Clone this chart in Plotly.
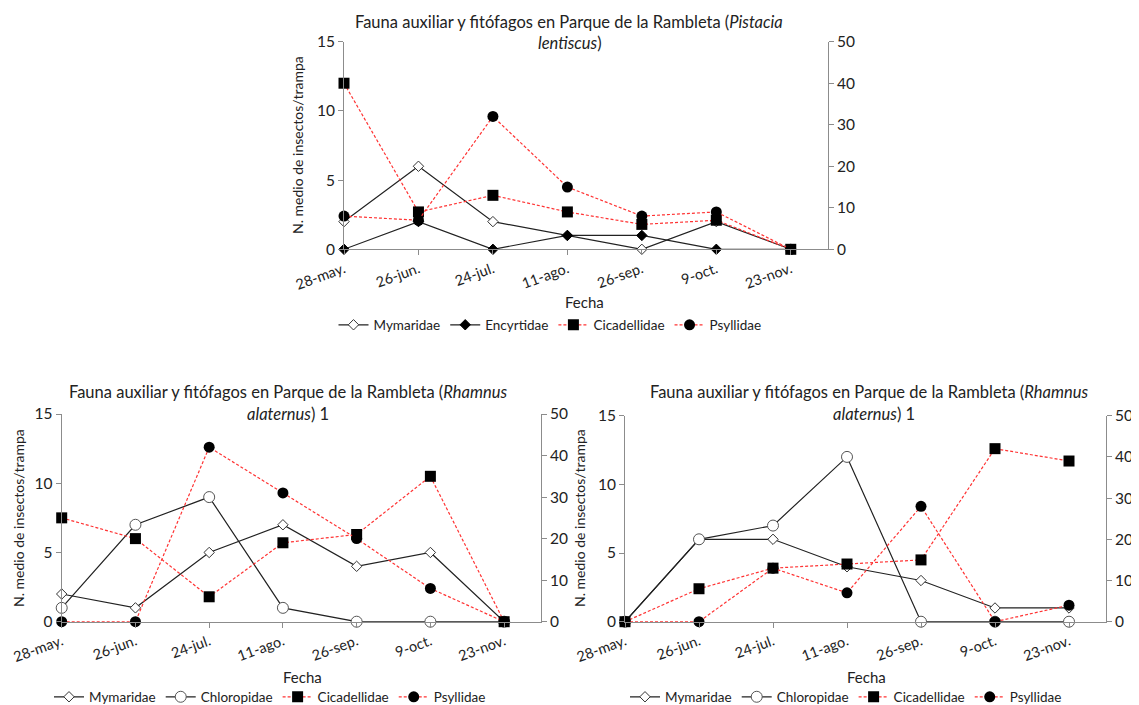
import plotly.graph_objects as go

# The page body has an 8px margin, so the figure is drawn 8px in from the
# top-left corner of the window; size and positions compensate for that.
VIEW_W, VIEW_H = 1139, 705
OFF = 8
W, H = VIEW_W - OFF, VIEW_H - OFF

fechas = ["28-may.", "26-jun.", "24-jul.", "11-ago.", "26-sep.", "9-oct.", "23-nov."]

# Chart 1: Pistacia lentiscus
p_mymaridae = [2, 6, 2, 1, 0, 2, 0]
p_encyrtidae = [0, 2, 0, 1, 1, 0, 0]
p_cicadellidae = [40, 9, 13, 9, 6, 7, 0]
p_psyllidae = [8, 7, 32, 15, 8, 9, 0]

# Chart 2: Rhamnus alaternus (left)
r1_mymaridae = [2, 1, 5, 7, 4, 5, 0]
r1_chloropidae = [1, 7, 9, 1, 0, 0, 0]
r1_cicadellidae = [25, 20, 6, 19, 21, 35, 0]
r1_psyllidae = [0, 0, 42, 31, 20, 8, 0]

# Chart 3: Rhamnus alaternus (right)
r2_mymaridae = [0, 6, 6, 4, 3, 1, 1]
r2_chloropidae = [0, 6, 7, 12, 0, 0, 0]
r2_cicadellidae = [0, 8, 13, 14, 15, 42, 39]
r2_psyllidae = [0, 0, 13, 7, 28, 0, 4]

FONT = "Lato"
RED = "#ff3333"
AXC = "#8c8c8c"

def px(x):
    return (x - OFF) / W

def py(y):
    return 1 - (y - OFF) / H

fig = go.Figure()

def add_series(xa, ya_left, ya_right, legend, s1name, s1, s1sym, s2name, s2, s2sym, cic, psy):
    for name, vals, sym in [(s1name, s1, s1sym), (s2name, s2, s2sym)]:
        if sym == "diamond-open":
            marker = dict(symbol="diamond", size=8, color="white", line=dict(color="#333", width=1))
        elif sym == "circle-open":
            marker = dict(symbol="circle", size=11, color="white", line=dict(color="#555", width=1))
        else:
            marker = dict(symbol="diamond", size=8, color="black", line=dict(color="black", width=1))
        fig.add_trace(go.Scatter(x=fechas, y=vals, name=name, mode="lines+markers",
                                 line=dict(color="#222", width=1.2), marker=marker,
                                 xaxis=xa, yaxis=ya_left, legend=legend, cliponaxis=False))
    fig.add_trace(go.Scatter(x=fechas, y=cic, name="Cicadellidae", mode="lines+markers",
                             line=dict(color=RED, width=1.2, dash="3px,2px"),
                             marker=dict(symbol="square", size=11, color="black"),
                             xaxis=xa, yaxis=ya_right, legend=legend, cliponaxis=False))
    fig.add_trace(go.Scatter(x=fechas, y=psy, name="Psyllidae", mode="lines+markers",
                             line=dict(color=RED, width=1.2, dash="3px,2px"),
                             marker=dict(symbol="circle", size=11, color="black"),
                             xaxis=xa, yaxis=ya_right, legend=legend, cliponaxis=False))

add_series("x", "y", "y2", "legend", "Mymaridae", p_mymaridae, "diamond-open",
           "Encyrtidae", p_encyrtidae, "diamond", p_cicadellidae, p_psyllidae)
add_series("x2", "y3", "y4", "legend2", "Mymaridae", r1_mymaridae, "diamond-open",
           "Chloropidae", r1_chloropidae, "circle-open", r1_cicadellidae, r1_psyllidae)
add_series("x3", "y5", "y6", "legend3", "Mymaridae", r2_mymaridae, "diamond-open",
           "Chloropidae", r2_chloropidae, "circle-open", r2_cicadellidae, r2_psyllidae)

tickfont = dict(family=FONT, size=15.5, color="#222")
xtickfont = dict(family=FONT, size=14.5, color="#222")

def xaxis(dom, anchor):
    return dict(domain=dom, anchor=anchor, type="category", range=[0, 6.5],
                showline=True, linecolor=AXC, linewidth=1, ticks="outside", ticklen=5,
                tickcolor=AXC, tickangle=-20, tickfont=xtickfont, showgrid=False,
                zeroline=False, automargin=False)

def yleft(dom, anchor):
    return dict(domain=dom, anchor=anchor, range=[0, 15], dtick=5, showline=True,
                linecolor=AXC, linewidth=1, ticks="outside", ticklen=5, tickcolor=AXC,
                tickfont=tickfont, showgrid=False, zeroline=False, automargin=False)

def yright(overlay, anchor):
    return dict(overlaying=overlay, anchor=anchor, side="right", range=[0, 50], dtick=10,
                showline=True, linecolor=AXC, linewidth=1, ticks="outside", ticklen=5,
                tickcolor=AXC, tickfont=tickfont, showgrid=False, zeroline=False,
                automargin=False)

d1x = [px(344), px(828)]
d1y = [py(249.3), py(41.7)]
d2x = [px(61.7), px(541)]
d2y = [py(621.7), py(414)]
d3x = [px(625), px(1106)]
d3y = [py(621.7), py(415.7)]

legend_common = dict(orientation="h", xanchor="center", yanchor="middle",
                     font=dict(family=FONT, size=13.5, color="#222"),
                     bgcolor="rgba(0,0,0,0)", itemwidth=30, tracegroupgap=0)

fig.update_layout(
    width=W, height=H, margin=dict(l=0, r=0, t=0, b=0, autoexpand=False),
    paper_bgcolor="white", plot_bgcolor="white",
    font=dict(family=FONT, color="#222"),
    xaxis=xaxis(d1x, "y"), yaxis=yleft(d1y, "x"), yaxis2=yright("y", "x"),
    xaxis2=xaxis(d2x, "y3"), yaxis3=yleft(d2y, "x2"), yaxis4=yright("y3", "x2"),
    xaxis3=xaxis(d3x, "y5"), yaxis5=yleft(d3y, "x3"), yaxis6=yright("y5", "x3"),
    legend=dict(legend_common, x=px(550), y=py(325)),
    legend2=dict(legend_common, x=px(270), y=py(697)),
    legend3=dict(legend_common, x=px(846), y=py(697)),
    showlegend=True,
)

ann = []
titlefont = dict(family=FONT, size=16.5, color="#222")
def title(text, x, y):
    ann.append(dict(text=text, x=px(x), y=py(y), xref="paper", yref="paper",
                    showarrow=False, font=titlefont, xanchor="center", yanchor="middle", align="center"))

title("Fauna auxiliar y fitófagos en Parque de la Rambleta (<i>Pistacia</i>", 569, 22)
title("<i>lentiscus</i>)", 570, 43)
title("Fauna auxiliar y fitófagos en Parque de la Rambleta (<i>Rhamnus</i>", 288, 392)
title("<i>alaternus</i>) 1", 288, 414)
title("Fauna auxiliar y fitófagos en Parque de la Rambleta (<i>Rhamnus</i>", 869, 392)
title("<i>alaternus</i>) 1", 874, 414)

labfont = dict(family=FONT, size=14, color="#222")
def ylab(x, y):
    ann.append(dict(text="N. medio de insectos/trampa", x=px(x), y=py(y), xref="paper", yref="paper",
                    showarrow=False, font=labfont, textangle=-90, xanchor="center", yanchor="middle"))
def xlab(x, y):
    ann.append(dict(text="Fecha", x=px(x), y=py(y), xref="paper", yref="paper",
                    showarrow=False, font=dict(family=FONT, size=15, color="#222"),
                    xanchor="center", yanchor="middle"))

ylab(298, 145)
ylab(18, 518)
ylab(579, 518)
xlab(584, 302)
xlab(302, 677)
xlab(866, 677)

fig.update_layout(annotations=ann)

fig.write_html("out.html")
